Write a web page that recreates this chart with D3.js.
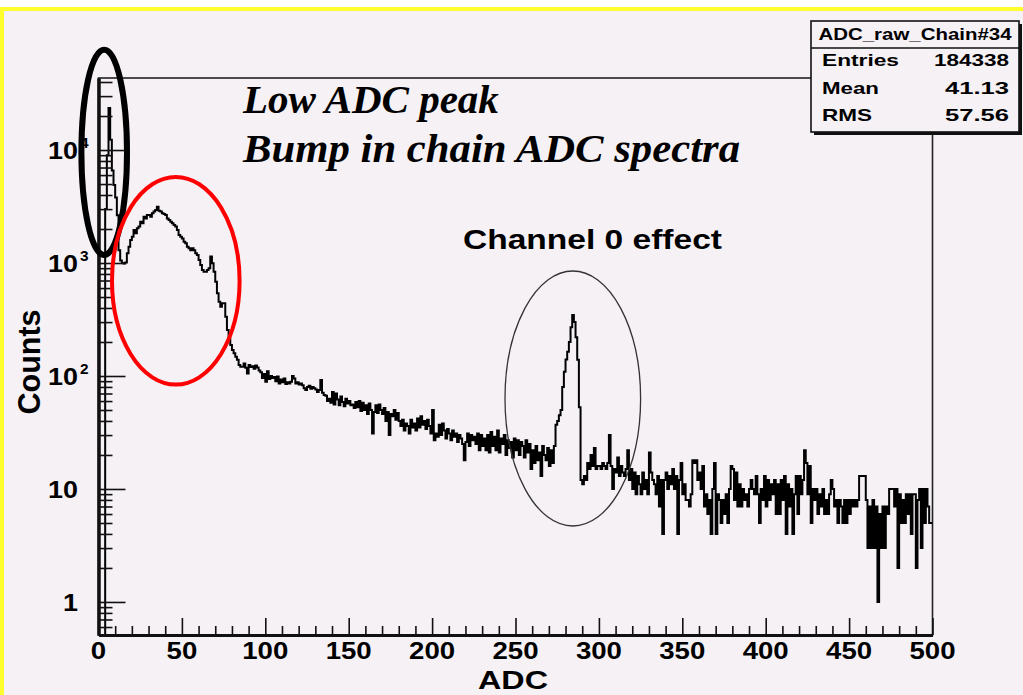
<!DOCTYPE html>
<html>
<head>
<meta charset="utf-8">
<script src="https://cdn.jsdelivr.net/npm/d3@7"></script>
<style>
  html, body { margin: 0; padding: 0; background: #ffffff; overflow: hidden; }
  text { font-family: "Liberation Sans", Arial, Helvetica, sans-serif; }
</style>
</head>
<body>
<svg id="chart" width="1023" height="695"></svg>
<script>
// ---- Data: raw ADC spectrum of chain #34, one-ADC-wide bins from 0 to 500 ----
const adcRange = [0, 500];
const binWidth = 1;
const counts = [
  0, 0, 0, 0, 3000, 9000, 23500, 12300, 6600, 4900,
  3800, 2650, 1300, 1050, 1000, 990, 1010, 1220, 1390, 1600,
  1710, 1960, 1830, 2030, 2100, 2320, 2245, 2570, 2480, 2660,
  2660, 2570, 2750, 2850, 2940, 3150, 2900, 2850, 2750, 2715,
  2660, 2480, 2400, 2320, 2245, 2170, 2100, 1960, 1770, 1710,
  1650, 1545, 1495, 1390, 1350, 1300, 1350, 1300, 1220, 1180,
  1065, 960, 867, 838, 838, 867, 897, 1140, 995, 838,
  683, 540, 455, 410, 440, 440, 335, 255, 215, 188,
  170, 159, 148, 139, 125, 121, 121, 129, 118, 105,
  125, 120, 122, 116, 124, 119, 112, 108, 96, 104,
  89, 110, 94, 100, 96, 98, 90, 99, 86, 93,
  88, 95, 85, 88, 86, 89, 100, 95, 86, 88,
  84, 86, 83, 78, 75, 80, 82, 77, 80, 78,
  76, 72, 75, 92, 71, 68, 67, 60, 63, 58,
  72, 56, 70, 62, 55, 66, 59, 54, 63, 57,
  60, 55, 56, 52, 59, 53, 60, 49, 58, 50,
  55, 46, 57, 50, 31, 48, 55, 47, 56, 50,
  46, 52, 40, 48, 30, 46, 44, 50, 41, 47,
  40, 36, 41, 33, 38, 36, 31, 41, 35, 38,
  33, 42, 35, 44, 37, 40, 34, 41, 36, 31,
  50, 27, 31, 29, 37, 30, 38, 33, 28, 34,
  31, 27, 33, 29, 31, 26, 30, 28, 25, 18,
  26, 31, 24, 30, 27, 29, 25, 31, 22, 30,
  24, 28, 22, 30, 21, 32, 24, 29, 22, 33,
  21, 28, 25, 30, 20, 27, 23, 26, 19, 28,
  22, 27, 20, 26, 24, 19, 27, 21, 25, 15,
  22, 17, 24, 18, 21, 13, 24, 20, 18, 23,
  16, 22, 17, 24, 37, 40, 45, 50, 80, 109,
  140, 164, 200, 270, 347, 300, 220, 139, 53, 12,
  11, 13, 12, 17, 15, 20, 16, 23, 15, 16,
  16, 15, 17, 16, 15, 17, 30, 16, 10, 15,
  14, 19, 13, 16, 14, 13, 15, 22, 12, 15,
  10, 14, 9, 13, 11, 9, 14, 10, 12, 9,
  21, 14, 12, 11, 9, 13, 7, 12, 4, 12,
  14, 10, 13, 11, 15, 10, 13, 4, 12, 17,
  9, 11, 8, 8, 7, 9, 18, 17, 18, 12,
  14, 10, 16, 7, 9, 6, 8, 4, 10, 17,
  4, 9, 8, 5, 8, 6, 9, 5, 10, 16,
  15, 8, 14, 7, 11, 7, 10, 8, 9, 7,
  10, 12, 10, 9, 13, 9, 5, 10, 8, 13,
  7, 12, 8, 11, 9, 12, 6, 11, 6, 12,
  8, 13, 4, 11, 7, 10, 4, 9, 13, 6,
  13, 9, 12, 22, 17, 9, 16, 5, 10, 8,
  10, 6, 9, 7, 10, 6, 8, 6, 9, 12,
  10, 7, 8, 5, 8, 7, 5, 8, 5, 8,
  6, 8, 7, 8, 7, 8, 13, 13, 13, 13,
  8, 3, 7, 3, 8, 3, 7, 1, 6, 3,
  7, 3, 7, 6, 10, 10, 10, 7, 10, 2,
  9, 5, 8, 5, 9, 6, 9, 4, 9, 9,
  2, 8, 10, 3, 10, 5, 10, 7, 5, 5
];

const xTickValues = [0, 50, 100, 150, 200, 250, 300, 350, 400, 450, 500];
const xTickLabels = ["0", "50", "100", "150", "200", "250", "300", "350", "400", "450", "500"];
const yDecades = [1, 10, 100, 1000, 10000];
const yTickBase = ["1", "10", "10", "10", "10"];
const yTickExp = ["", "", "2", "3", "4"];
const yRange = [0.51, 43400];

const statsTitle = "ADC_raw_Chain#34";
const statsNames = ["Entries", "Mean", "RMS"];
const statsValues = ["184338", "41.13", "57.56"];

const xTitle = "ADC";
const yTitle = "Counts";
const noteLines = ["Low ADC peak", "Bump in chain ADC spectra"];
const peakNote = "Channel 0 effect";

// ---- Layout ----
const W = 1023, H = 695;
const frame = { left: 98.5, right: 932.5, top: 78, bottom: 635 };
const bg = "#f5f1f5";

const svg = d3.select("#chart");

// slide background with yellow border
svg.append("rect").attr("x", 0).attr("y", 0).attr("width", W).attr("height", H).attr("fill", "#ffffff");
svg.append("rect").attr("x", 0).attr("y", 7).attr("width", W).attr("height", H - 7).attr("fill", "#ffff2e");
svg.append("rect").attr("x", 4).attr("y", 11).attr("width", W - 4).attr("height", H - 11).attr("fill", bg);

const x = d3.scaleLinear().domain(adcRange).range([frame.left, frame.right]);
const y = d3.scaleLog().domain(yRange).range([frame.bottom, frame.top]).clamp(true);

// ---- Frame ----
svg.append("rect")
  .attr("x", frame.left).attr("y", frame.top)
  .attr("width", frame.right - frame.left).attr("height", frame.bottom - frame.top)
  .attr("fill", "none").attr("stroke", "#222").attr("stroke-width", 1.6);

// ---- Histogram (step outline) ----
svg.append("clipPath").attr("id", "plotClip")
  .append("rect")
  .attr("x", frame.left).attr("y", frame.top - 1)
  .attr("width", frame.right - frame.left).attr("height", frame.bottom - frame.top + 1);

const bins = counts.map((c, i) => ({ edge: adcRange[0] + i * binWidth, value: c }));
bins.push({ edge: adcRange[0] + counts.length * binWidth, value: counts[counts.length - 1] });

const stepLine = d3.line()
  .x(d => x(d.edge))
  .y(d => d.value > 0 ? y(d.value) : frame.bottom)
  .curve(d3.curveStepAfter);

svg.append("path")
  .datum(bins)
  .attr("clip-path", "url(#plotClip)")
  .attr("d", stepLine)
  .attr("fill", "none")
  .attr("stroke", "#000")
  .attr("stroke-width", 2)
  .attr("stroke-linejoin", "miter");

// ---- Axes: ticks drawn inward, ROOT style ----
function styleAxis(g, width) {
  g.selectAll("path.domain").attr("stroke", "#111").attr("stroke-width", width);
  g.selectAll(".tick line").attr("stroke", "#111").attr("stroke-width", 1.6);
  g.selectAll(".tick text").remove();
}

const xMinor = d3.range(0, 501, 10).filter(v => v % 50 !== 0);
svg.append("g").attr("transform", `translate(0,${frame.bottom})`)
  .call(d3.axisBottom(x).tickValues(xMinor).tickSize(-9).tickSizeOuter(0).tickFormat(""))
  .call(g => styleAxis(g, 3));
svg.append("g").attr("transform", `translate(0,${frame.bottom})`)
  .call(d3.axisBottom(x).tickValues(xTickValues).tickSize(-17).tickSizeOuter(0).tickFormat(""))
  .call(g => styleAxis(g, 3));

const yMinor = [];
[0.1, 1, 10, 100, 1000, 10000].forEach(d => {
  for (let k = 2; k <= 9; k++) {
    const v = k * d;
    if (v >= yRange[0] && v <= yRange[1]) yMinor.push(v);
  }
});
svg.append("g").attr("transform", `translate(${frame.left},0)`)
  .call(d3.axisLeft(y).tickValues(yMinor).tickSize(-14).tickSizeOuter(0).tickFormat(""))
  .call(g => styleAxis(g, 3));
svg.append("g").attr("transform", `translate(${frame.left},0)`)
  .call(d3.axisLeft(y).tickValues(yDecades).tickSize(-27).tickSizeOuter(0).tickFormat(""))
  .call(g => styleAxis(g, 3));

// ---- Tick labels ----
const xLab = svg.append("g");
xTickValues.forEach((v, i) => {
  xLab.append("text")
    .attr("transform", `translate(${x(v)},${659}) scale(1.2,1)`)
    .attr("text-anchor", "middle")
    .attr("font-size", 23).attr("font-weight", "bold").attr("fill", "#000")
    .text(xTickLabels[i]);
});

const yLab = svg.append("g");
yDecades.forEach((v, i) => {
  const yy = y(v);
  yLab.append("text")
    .attr("transform", `translate(${78},${yy + 9}) scale(1.12,1)`)
    .attr("text-anchor", "end")
    .attr("font-size", 24).attr("font-weight", "bold").attr("fill", "#000")
    .text(yTickBase[i]);
  if (yTickExp[i]) {
    yLab.append("text")
      .attr("transform", `translate(${80},${yy - 2}) scale(1.1,1)`)
      .attr("font-size", 14).attr("font-weight", "bold").attr("fill", "#000")
      .text(yTickExp[i]);
  }
});

// ---- Axis titles ----
svg.append("text")
  .attr("x", 513).attr("y", 689)
  .attr("text-anchor", "middle")
  .attr("font-size", 25).attr("font-weight", "bold")
  .attr("textLength", 70).attr("lengthAdjust", "spacingAndGlyphs")
  .text(xTitle);

svg.append("text")
  .attr("transform", "translate(40,362) rotate(-90)")
  .attr("text-anchor", "middle")
  .attr("font-size", 31).attr("font-weight", "bold")
  .attr("textLength", 105).attr("lengthAdjust", "spacingAndGlyphs")
  .text(yTitle);

// ---- Statistics box ----
const box = { x: 811, y: 21, w: 208, h: 111 };
svg.append("line")
  .attr("x1", box.x + 3).attr("x2", box.x + box.w + 2)
  .attr("y1", box.y + box.h + 1.5).attr("y2", box.y + box.h + 1.5)
  .attr("stroke", "#111").attr("stroke-width", 3);
svg.append("line")
  .attr("x1", box.x + box.w + 1.5).attr("x2", box.x + box.w + 1.5)
  .attr("y1", box.y + 3).attr("y2", box.y + box.h + 3)
  .attr("stroke", "#111").attr("stroke-width", 3);
svg.append("rect")
  .attr("x", box.x).attr("y", box.y).attr("width", box.w).attr("height", box.h)
  .attr("fill", bg).attr("stroke", "#111").attr("stroke-width", 1.6);
svg.append("line")
  .attr("x1", box.x).attr("x2", box.x + box.w)
  .attr("y1", 48).attr("y2", 48)
  .attr("stroke", "#111").attr("stroke-width", 1.6);

svg.append("text")
  .attr("x", box.x + box.w / 2).attr("y", 40)
  .attr("text-anchor", "middle")
  .attr("font-size", 16).attr("font-weight", "bold")
  .attr("textLength", 193).attr("lengthAdjust", "spacingAndGlyphs")
  .text(statsTitle);

const rowBase = [66, 94, 121];
const nameLen = [77, 57, 50];
const valueLen = [75, 64, 64];
statsNames.forEach((n, i) => {
  svg.append("text")
    .attr("x", 822).attr("y", rowBase[i])
    .attr("font-size", 17).attr("font-weight", "bold")
    .attr("textLength", nameLen[i]).attr("lengthAdjust", "spacingAndGlyphs")
    .text(n);
  svg.append("text")
    .attr("x", 1009).attr("y", rowBase[i])
    .attr("text-anchor", "end")
    .attr("font-size", 17).attr("font-weight", "bold")
    .attr("textLength", valueLen[i]).attr("lengthAdjust", "spacingAndGlyphs")
    .text(statsValues[i]);
});

// ---- Annotations ----
svg.append("ellipse")
  .attr("cx", 104.2).attr("cy", 152.3).attr("rx", 22.8).attr("ry", 102.6)
  .attr("fill", "none").attr("stroke", "#000").attr("stroke-width", 6);
svg.append("ellipse")
  .attr("cx", 175.8).attr("cy", 280.8).attr("rx", 63.8).attr("ry", 103.8)
  .attr("fill", "none").attr("stroke", "#ff0000").attr("stroke-width", 4);
svg.append("ellipse")
  .attr("cx", 572.8).attr("cy", 398.5).attr("rx", 67.8).attr("ry", 127.5)
  .attr("fill", "none").attr("stroke", "#333").attr("stroke-width", 1.3);

svg.append("text")
  .attr("x", 243).attr("y", 113)
  .style("font-family", "'Liberation Serif', 'Times New Roman', serif")
  .attr("font-size", 41).attr("font-weight", "bold").attr("font-style", "italic")
  .text(noteLines[0]);
svg.append("text")
  .attr("x", 243).attr("y", 162)
  .style("font-family", "'Liberation Serif', 'Times New Roman', serif")
  .attr("font-size", 41).attr("font-weight", "bold").attr("font-style", "italic")
  .attr("textLength", 497).attr("lengthAdjust", "spacingAndGlyphs")
  .text(noteLines[1]);

svg.append("text")
  .attr("x", 463).attr("y", 249)
  .attr("font-size", 27).attr("font-weight", "bold")
  .attr("textLength", 259).attr("lengthAdjust", "spacingAndGlyphs")
  .text(peakNote);
</script>
</body>
</html>
